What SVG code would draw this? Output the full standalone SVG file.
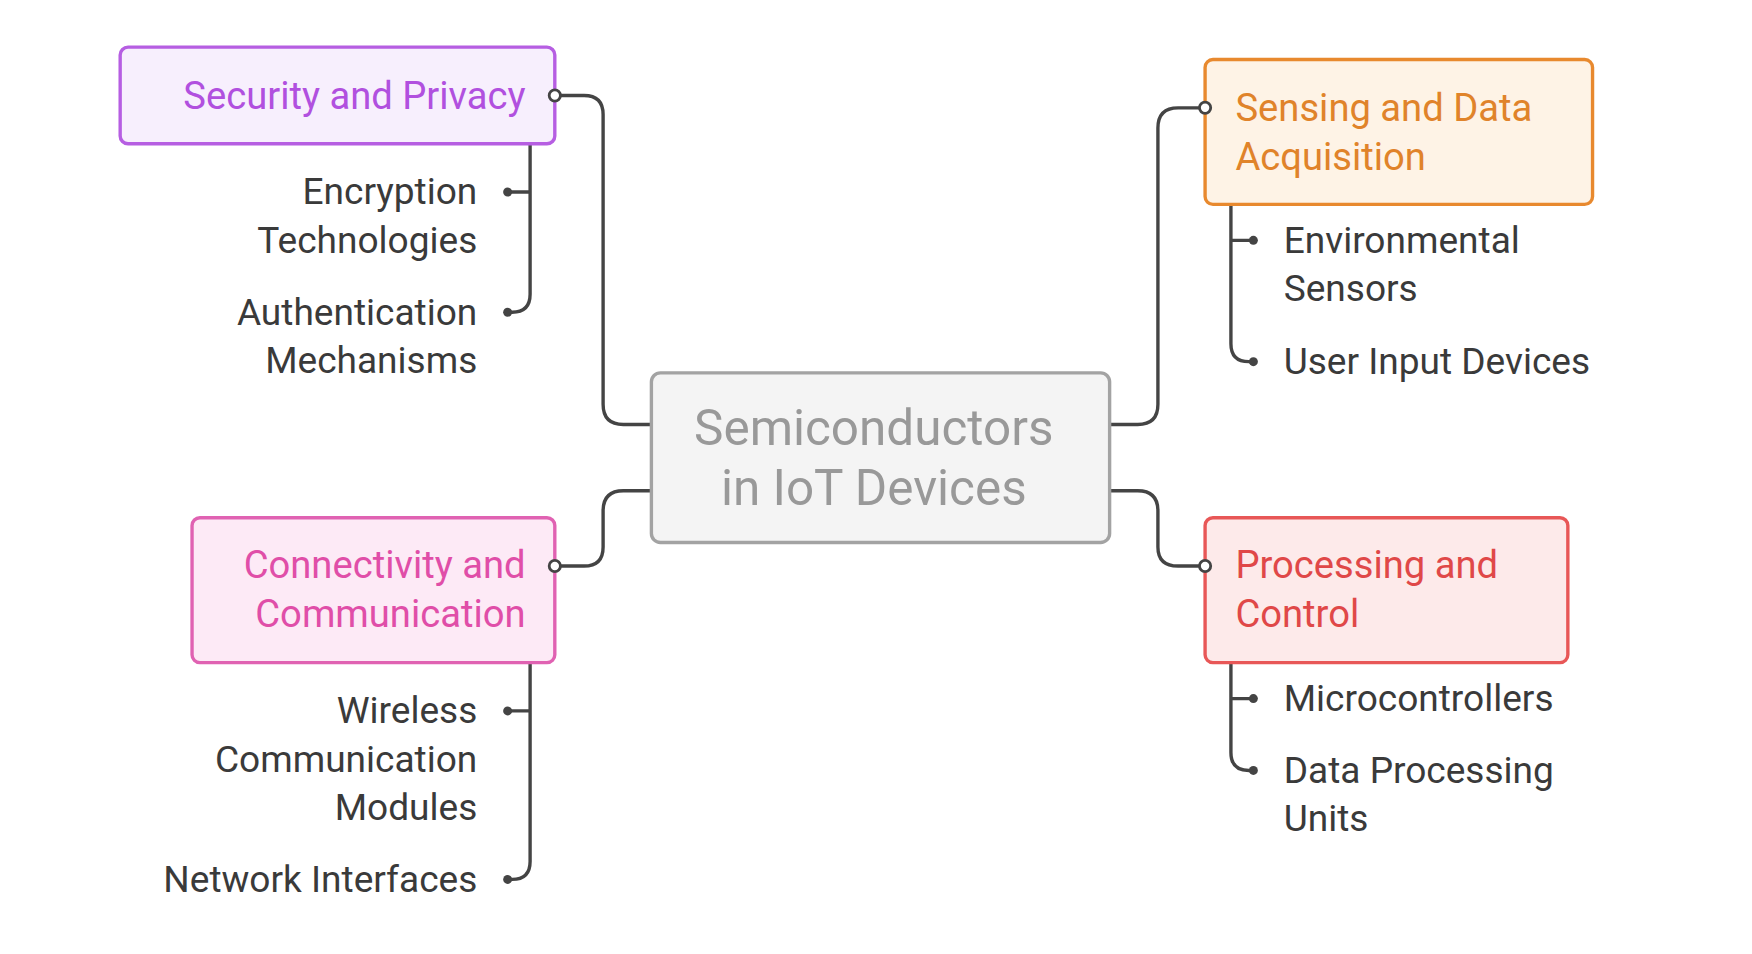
<svg xmlns="http://www.w3.org/2000/svg" width="1752" height="954" viewBox="0 0 1752 954">
<style>
text{font-family:Roboto,"Liberation Sans",sans-serif}
.c{fill:none;stroke:#444;stroke-width:3}
.lbl{font-size:33px;fill:#3a3a3a}
.h{font-size:34px}
.oc{fill:#fff;stroke:#444;stroke-width:2.5}
.fd{fill:#444}
</style>
<rect width="1752" height="954" fill="#fff"/>
<g transform="scale(1.1231)">
<g id="connectors">
<path class="c" d="M494,85 H520 Q537,85 537,102 V360 Q537,378 555,378 H580"/>
<path class="c" d="M988,378 H1013 Q1031,378 1031,360 V114 Q1031,96 1049,96 H1073"/>
<path class="c" d="M494,504 H520 Q537,504 537,487 V455 Q537,437 555,437 H580"/>
<path class="c" d="M988,437 H1013 Q1031,437 1031,455 V487 Q1031,504 1049,504 H1073"/>
<path class="c" d="M472,128 V262 Q472,278 456,278 H452 M472,171 H452"/>
<path class="c" d="M472,590 V767 Q472,783 456,783 H452 M472,633 H452"/>
<path class="c" d="M1096,182 V306 Q1096,322 1112,322 H1116 M1096,214 H1116"/>
<path class="c" d="M1096,590 V670 Q1096,686 1112,686 H1116 M1096,622 H1116"/>
<circle class="fd" cx="452" cy="171" r="4"/><circle class="fd" cx="452" cy="278" r="4"/>
<circle class="fd" cx="452" cy="633" r="4"/><circle class="fd" cx="452" cy="783" r="4"/>
<circle class="fd" cx="1116" cy="214" r="4"/><circle class="fd" cx="1116" cy="322" r="4"/>
<circle class="fd" cx="1116" cy="622" r="4"/><circle class="fd" cx="1116" cy="686" r="4"/>
</g>
<g id="center">
<rect x="580" y="332" width="408" height="151" rx="8" fill="#f4f4f4" stroke="#a3a3a3" stroke-width="3"/>
<text x="778" y="396" font-size="44" fill="#999" text-anchor="middle">Semiconductors</text>
<text x="778" y="450" font-size="44" fill="#999" text-anchor="middle">in IoT Devices</text>
</g>
<g id="security">
<rect x="107" y="42" width="387" height="86" rx="7" fill="#f7effd" stroke="#b65ee2" stroke-width="3"/>
<text class="h" x="468" y="97" fill="#b150df" text-anchor="end">Security and Privacy</text>
<circle class="oc" cx="494" cy="85" r="5"/>
</g>
<g id="sensing">
<rect x="1073" y="53" width="345" height="129" rx="7" fill="#fef3e6" stroke="#e8892e" stroke-width="3"/>
<text class="h" x="1100" y="108" fill="#e0832a">Sensing and Data</text>
<text class="h" x="1100" y="151" fill="#e0832a">Acquisition</text>
<circle class="oc" cx="1073" cy="96" r="5"/>
</g>
<g id="connectivity">
<rect x="171" y="461" width="323" height="129" rx="7" fill="#fdeaf6" stroke="#e062b2" stroke-width="3"/>
<text class="h" x="468" y="515" fill="#e04ea8" text-anchor="end">Connectivity and</text>
<text class="h" x="468" y="558" fill="#e04ea8" text-anchor="end">Communication</text>
<circle class="oc" cx="494" cy="504" r="5"/>
</g>
<g id="processing">
<rect x="1073" y="461" width="323" height="129" rx="7" fill="#fdeaea" stroke="#e85757" stroke-width="3"/>
<text class="h" x="1100" y="515" fill="#e04848">Processing and</text>
<text class="h" x="1100" y="558" fill="#e04848">Control</text>
<circle class="oc" cx="1073" cy="504" r="5"/>
</g>
<g id="enc"><text class="lbl" x="425" y="182" text-anchor="end">Encryption</text><text class="lbl" x="425" y="225" text-anchor="end">Technologies</text></g>
<g id="auth"><text class="lbl" x="425" y="289" text-anchor="end">Authentication</text><text class="lbl" x="425" y="332" text-anchor="end">Mechanisms</text></g>
<g id="env"><text class="lbl" x="1143" y="225">Environmental</text><text class="lbl" x="1143" y="268">Sensors</text></g>
<g id="uid"><text class="lbl" x="1143" y="333">User Input Devices</text></g>
<g id="wcm"><text class="lbl" x="425" y="644" text-anchor="end">Wireless</text><text class="lbl" x="425" y="687" text-anchor="end">Communication</text><text class="lbl" x="425" y="730" text-anchor="end">Modules</text></g>
<g id="ni"><text class="lbl" x="425" y="794" text-anchor="end">Network Interfaces</text></g>
<g id="mc"><text class="lbl" x="1143" y="633">Microcontrollers</text></g>
<g id="dpu"><text class="lbl" x="1143" y="697">Data Processing</text><text class="lbl" x="1143" y="740">Units</text></g>
</g>
</svg>
